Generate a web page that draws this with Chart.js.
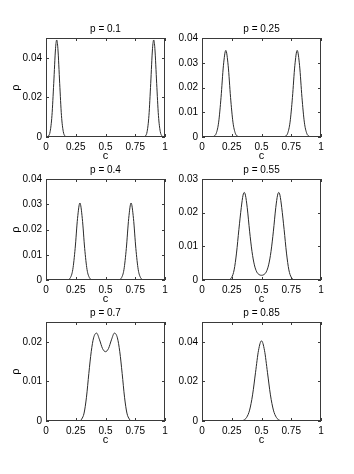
<!DOCTYPE html>
<html>
<head>
<meta charset="utf-8">
<script src="https://cdn.jsdelivr.net/npm/chart.js@4"></script>
<style>
  html, body { margin: 0; padding: 0; background: #fff; }
  body { width: 354px; height: 474px; position: relative; overflow: hidden; }
  .panel { position: absolute; }
</style>
</head>
<body>
<div class="panel" style="left:0;top:22px;width:177px;height:141px"><canvas id="ch1"></canvas></div>
<div class="panel" style="left:177px;top:22px;width:177px;height:141px"><canvas id="ch2"></canvas></div>
<div class="panel" style="left:0;top:163px;width:177px;height:143px"><canvas id="ch3"></canvas></div>
<div class="panel" style="left:177px;top:163px;width:177px;height:143px"><canvas id="ch4"></canvas></div>
<div class="panel" style="left:0;top:306px;width:177px;height:141px"><canvas id="ch5"></canvas></div>
<div class="panel" style="left:177px;top:306px;width:177px;height:141px"><canvas id="ch6"></canvas></div>
<script>
// p = 0.1
const c1 = [0, 0.02, 0.035, 0.05, 0.065, 0.08, 0.09, 0.10, 0.115, 0.13, 0.145, 0.16, 0.18,
  0.815, 0.835, 0.85, 0.865, 0.88, 0.895, 0.905, 0.915, 0.93, 0.945, 0.96, 0.975, 0.99, 1];
const rho1 = [0, 0.0005, 0.0028, 0.0108, 0.0271, 0.0446, 0.049, 0.0446, 0.0271, 0.0108, 0.0028, 0.0005, 0,
  0, 0.0005, 0.0028, 0.0108, 0.0271, 0.0446, 0.049, 0.0446, 0.0271, 0.0108, 0.0028, 0.0005, 0, 0];

// p = 0.25
const c2 = [0, 0.08, 0.10, 0.12, 0.14, 0.16, 0.18, 0.20, 0.22, 0.24, 0.26, 0.28, 0.30, 0.32,
  0.68, 0.70, 0.72, 0.74, 0.76, 0.78, 0.80, 0.82, 0.84, 0.86, 0.88, 0.90, 0.92, 1];
const rho2 = [0, 0, 0.0003, 0.0015, 0.0060, 0.0160, 0.0288, 0.035, 0.0288, 0.0160, 0.0060, 0.0015, 0.0003, 0,
  0, 0.0003, 0.0015, 0.0060, 0.0160, 0.0288, 0.035, 0.0288, 0.0160, 0.0060, 0.0015, 0.0003, 0, 0];

// p = 0.4
const c3 = [0, 0.165, 0.185, 0.205, 0.225, 0.245, 0.265, 0.285, 0.305, 0.325, 0.345, 0.365, 0.385, 0.405,
  0.595, 0.615, 0.635, 0.655, 0.675, 0.695, 0.715, 0.735, 0.755, 0.775, 0.795, 0.815, 0.835, 1];
const rho3 = [0, 0, 0.0001, 0.0009, 0.0041, 0.0125, 0.0244, 0.0305, 0.0244, 0.0125, 0.0041, 0.0009, 0.0001, 0,
  0, 0.0001, 0.0009, 0.0041, 0.0125, 0.0244, 0.0305, 0.0244, 0.0125, 0.0041, 0.0009, 0.0001, 0, 0];

// p = 0.55
const c4 = [0, 0.22, 0.25, 0.27, 0.29, 0.31, 0.33, 0.345, 0.355, 0.365, 0.38, 0.40, 0.42, 0.44, 0.46, 0.48, 0.50,
  0.52, 0.54, 0.56, 0.58, 0.60, 0.62, 0.635, 0.645, 0.655, 0.67, 0.69, 0.71, 0.73, 0.75, 0.78, 1];
const rho4 = [0, 0, 0.0008, 0.0030, 0.0080, 0.0150, 0.0215, 0.0252, 0.026, 0.0252, 0.0215, 0.0145, 0.0085, 0.0045, 0.0024, 0.0016, 0.0014,
  0.0016, 0.0024, 0.0045, 0.0085, 0.0145, 0.0215, 0.0252, 0.026, 0.0252, 0.0215, 0.0150, 0.0080, 0.0030, 0.0008, 0, 0];

// p = 0.7
const c5 = [0, 0.28, 0.30, 0.32, 0.34, 0.36, 0.38, 0.40, 0.425, 0.45, 0.475, 0.50,
  0.525, 0.55, 0.575, 0.60, 0.62, 0.64, 0.66, 0.68, 0.70, 0.72, 1];
const rho5 = [0, 0, 0.0005, 0.0020, 0.0060, 0.0120, 0.0175, 0.0210, 0.0222, 0.0205, 0.0183, 0.0175,
  0.0183, 0.0205, 0.0222, 0.0210, 0.0175, 0.0120, 0.0060, 0.0020, 0.0005, 0, 0];

// p = 0.85
const c6 = [0, 0.30, 0.325, 0.35, 0.375, 0.40, 0.425, 0.45, 0.475, 0.50, 0.525, 0.55, 0.575, 0.60, 0.625, 0.65, 0.675, 0.70, 1];
const rho6 = [0, 0, 0.0001, 0.0004, 0.0018, 0.0055, 0.0132, 0.0246, 0.0357, 0.0405, 0.0357, 0.0246, 0.0132, 0.0055, 0.0018, 0.0004, 0.0001, 0, 0];

const pLabels = ["p = 0.1", "p = 0.25", "p = 0.4", "p = 0.55", "p = 0.7", "p = 0.85"];
const yMaxes = [0.05, 0.04, 0.04, 0.03, 0.025, 0.05];
const ySteps = [0.02, 0.01, 0.01, 0.01, 0.01, 0.02];
const xTicks = [0, 0.25, 0.5, 0.75, 1];

const FONT = "'Liberation Sans', Arial, Helvetica, sans-serif";
const INK = "#000";
const EDGE = "#3a3a3a";

// matlab-like box with small inward ticks on all sides
const boxPlugin = {
  id: "box",
  afterDatasetsDraw(chart) {
    const { ctx, chartArea: a, scales: { x, y } } = chart;
    ctx.save();
    ctx.strokeStyle = EDGE;
    ctx.lineWidth = 1;
    ctx.strokeRect(Math.round(a.left) + 0.5, Math.round(a.top) + 0.5,
      Math.round(a.right - a.left) - 1, Math.round(a.bottom - a.top) - 1);
    ctx.beginPath();
    x.ticks.forEach(t => {
      const px = Math.round(x.getPixelForValue(t.value)) + 0.5;
      ctx.moveTo(px, a.bottom); ctx.lineTo(px, a.bottom - 3);
      ctx.moveTo(px, a.top); ctx.lineTo(px, a.top + 3);
    });
    y.ticks.forEach(t => {
      const py = Math.round(y.getPixelForValue(t.value)) + 0.5;
      ctx.moveTo(a.left, py); ctx.lineTo(a.left + 3, py);
      ctx.moveTo(a.right, py); ctx.lineTo(a.right - 3, py);
    });
    ctx.stroke();
    ctx.restore();
  }
};

const fmt = v => String(+Number(v).toFixed(4));

function makePanel(id, c, rho, i, leftCol) {
  const pts = c.map((v, k) => ({ x: v, y: rho[k] }));
  return new Chart(document.getElementById(id), {
    type: "line",
    data: {
      datasets: [{
        data: pts,
        borderColor: "#2a2a2a",
        borderWidth: 1,
        pointRadius: 0,
        fill: false,
        cubicInterpolationMode: "monotone"
      }]
    },
    options: {
      responsive: true,
      maintainAspectRatio: false,
      animation: false,
      devicePixelRatio: 1,
      layout: { padding: { left: 0, right: leftCol ? 12 : 33, top: 0, bottom: 0 } },
      plugins: {
        legend: { display: false },
        tooltip: { enabled: false },
        title: {
          display: true,
          fullSize: false,
          text: pLabels[i],
          color: INK,
          font: { family: FONT, size: 10, weight: "normal", lineHeight: "14px" },
          padding: { top: 0, bottom: 2 }
        }
      },
      scales: {
        x: {
          type: "linear",
          min: 0,
          max: 1,
          afterBuildTicks: s => { s.ticks = xTicks.map(v => ({ value: v })); },
          afterFit: s => { s.height = 26; },
          grid: { display: false, drawTicks: false },
          border: { display: false },
          ticks: { padding: 4, color: INK, maxRotation: 0, autoSkip: false,
            font: { family: FONT, size: 10 }, callback: fmt },
          title: { display: true, text: "c", color: INK, padding: 0,
            font: { family: FONT, size: 11, lineHeight: "14px" } }
        },
        y: {
          min: 0,
          max: yMaxes[i],
          afterBuildTicks: s => {
            const step = ySteps[i], out = [];
            for (let k = 0; k * step <= yMaxes[i] + 1e-9; k++) out.push({ value: +(k * step).toFixed(4) });
            s.ticks = out;
          },
          afterFit: s => { s.width = leftCol ? 46 : 25; },
          grid: { display: false, drawTicks: false },
          border: { display: false },
          ticks: { padding: 4, color: INK, font: { family: FONT, size: 10 }, callback: fmt },
          title: { display: leftCol, text: "ρ", color: INK, padding: { top: 9, bottom: 0 },
            font: { family: FONT, size: 11, lineHeight: "14px" } }
        }
      }
    },
    plugins: [boxPlugin]
  });
}

makePanel("ch1", c1, rho1, 0, true);
makePanel("ch2", c2, rho2, 1, false);
makePanel("ch3", c3, rho3, 2, true);
makePanel("ch4", c4, rho4, 3, false);
makePanel("ch5", c5, rho5, 4, true);
makePanel("ch6", c6, rho6, 5, false);
</script>
</body>
</html>
